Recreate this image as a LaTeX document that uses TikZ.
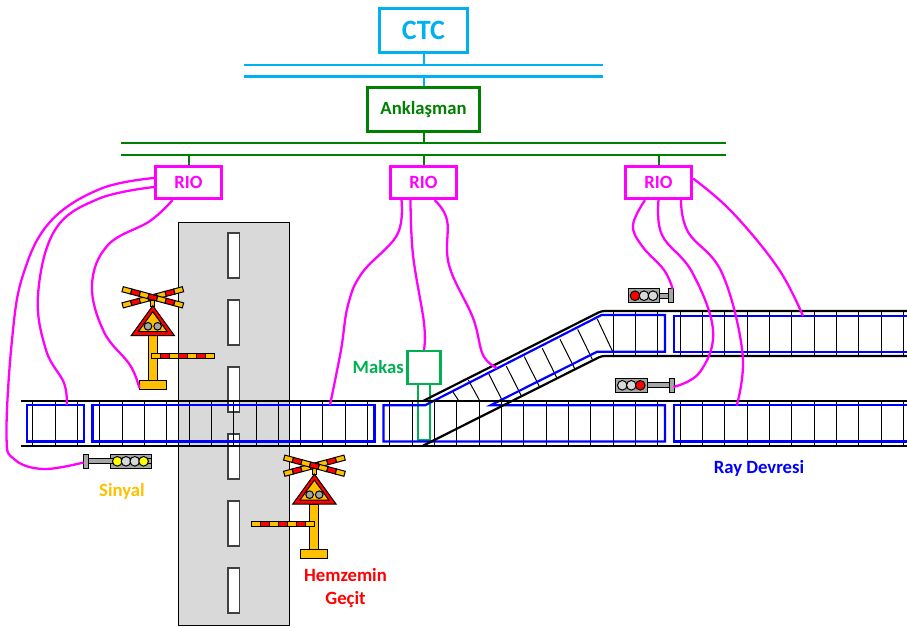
\documentclass[tikz,border=0pt]{standalone}
\usepackage{fontspec}
\setmainfont{Carlito}
\usepackage{xcolor}
\usetikzlibrary{positioning}
\definecolor{ctccolor}{HTML}{00B0F0}
\definecolor{lockcolor}{HTML}{008000}
\definecolor{pointcolor}{HTML}{00B050}
\definecolor{riocolor}{HTML}{FF00FF}
\definecolor{raycolor}{HTML}{0000FF}
\definecolor{gateyellow}{HTML}{FFC000}
\definecolor{gatered}{HTML}{FF0000}
\definecolor{lampyellow}{HTML}{FFFF00}
\definecolor{roadgray}{HTML}{D9D9D9}
\definecolor{headgray}{HTML}{A6A6A6}
\tikzset{
unitbox/.style={draw,fill=white,inner sep=0pt,font=\fontsize{18.7}{23}\selectfont\bfseries,align=center},
textlabel/.style={inner sep=0pt,font=\fontsize{18.7}{23}\selectfont\bfseries,align=center},
rail/.style={line width=2.2pt,black},
sleeper/.style={line width=1pt,black},
trackcircuit/.style={line width=2.2pt,raycolor},
cable/.style={line width=2.3pt,riocolor,line join=round},
part/.style={draw=black,line width=1pt,fill=#1},
gatebar/.pic={
\foreach \s/\barcolor in {0/gateyellow,1/gatered,2/gateyellow,3/gatered,4/gateyellow,5/gatered,6/gateyellow}
\path[part=\barcolor](-31.25+\s*8.93,-2.6) rectangle ++(8.93,5.2);
},
crossingsign/.pic={
\path[part=gateyellow](-2,3) rectangle (2,9);
\path[part=gateyellow](-4.5,38.4) rectangle (4.5,83.4);
\path[part=gateyellow](-13.5,83.4) rectangle (13.5,92.4);
\path[part=gatered](0,8.4)--(-21.7,38.4)--(21.7,38.4)--cycle;
\path[part=gateyellow](0,14.4)--(-14.5,34.4)--(14.5,34.4)--cycle;
\path[part=headgray](-4.8,29) circle[radius=3.8pt];
\path[part=headgray](4.8,29) circle[radius=3.8pt];
\pic[rotate=15]{gatebar};
\pic[rotate=-15]{gatebar};
}
}
% plate x, head left, head right, height, lamps
\newcommand{\signalunit}[5]{
\path[part=headgray](#2,#4-7) rectangle (#3,#4+7);
\path[part=headgray](#3,#4-2.5) rectangle (#1,#4+2.5);
\path[part=headgray](#1,#4-7) rectangle ++(4.7,14);
\foreach \lampx/\lampcolor in {#5}
\path[part=\lampcolor](\lampx,#4) circle[radius=4.8pt];
}
\begin{document}
\begin{tikzpicture}[x=1pt,y=-1pt]
\useasboundingbox (0,0) rectangle (907,627);
% road
\draw[fill=roadgray,line width=1pt](178,222) rectangle (289.5,625);
\foreach \k in {0,...,5}
\draw[fill=white,draw=black!75,line width=1.1pt](228,233+\k*67) rectangle ++(11.3,45);
% sleepers
\foreach \k in {0,...,39}
\draw[sleeper](32.7+\k*22.33,401)--++(0,44.7);
\foreach \k in {26,...,39}
\draw[sleeper](32.7+\k*22.33,311)--++(0,45);
\draw[sleeper](613.3,353)--(597.3,319)
(592.3,359.3)--(577.7,329.3)
(575,369.3)--(560,339.3)
(556.7,377.7)--(542.3,348.3)
(540,387.7)--(524.3,356.7)
(521.7,396.7)--(506.3,366)
(502,400)--(488.3,373)
(479.3,400)--(468.3,380)
(458.3,400)--(452.3,391);
% point machine
\node[unitbox,draw=pointcolor,line width=2.2pt,minimum size=33pt](makas) at (424,367.5){};
\node[textlabel,text=pointcolor,left=2.5pt of makas.west](makaslabel){Makas};
\coordinate (legleft) at (418,440);
\coordinate (legright) at (429.5,440);
\draw[pointcolor,line width=2pt](legleft|-makas.south)--(legleft)--(legright)--(legright|-makas.south);
% track circuits
\draw[trackcircuit](27,405.3) rectangle (83.7,441.5);
\draw[trackcircuit](92.5,405.3) rectangle (374.5,441.5);
\draw[trackcircuit](383.5,405.3)--(425,405.3)--(601.5,315)--(665,315)--(665,351.8)--(597,351.8)--(490.5,405.3)--(665,405.3)--(665,441.5)--(383.5,441.5)--cycle;
\draw[trackcircuit](907,405.3)--(674,405.3)--(674,441.5)--(907,441.5);
\draw[trackcircuit](907,316)--(674,316)--(674,351.8)--(907,351.8);
% rails
\draw[rail](21,401)--(907,401)
(21,445.7)--(907,445.7);
\draw[rail,rounded corners=3pt](423,401)--(601.5,311)--(907,311);
\draw[rail,rounded corners=3pt](423,445.7)--(601.5,356)--(907,356);
% buses and units
\node[unitbox,draw=ctccolor,text=ctccolor,line width=3.4pt,minimum width=88pt,minimum height=44pt,font=\fontsize{28}{32}\selectfont\bfseries](ctc) at (423.5,30.5){CTC};
\node[unitbox,draw=lockcolor,text=lockcolor,line width=2.2pt,minimum width=112pt,minimum height=44pt](lock) at (423.5,109.5){Anklaşman};
\node[unitbox,draw=riocolor,text=riocolor,line width=3.2pt,minimum width=66pt,minimum height=32pt](rioa) at (188.5,182.5){RIO};
\node[unitbox,draw=riocolor,text=riocolor,line width=3.2pt,minimum width=66pt,minimum height=32pt](riob) at (423.5,182.5){RIO};
\node[unitbox,draw=riocolor,text=riocolor,line width=3.2pt,minimum width=66pt,minimum height=32pt](rioc) at (658.5,182.5){RIO};
\coordinate (cyanup) at (423.5,65);
\coordinate (cyandown) at (423.5,76.5);
\coordinate (greenup) at (423.5,143);
\coordinate (greendown) at (423.5,155);
\draw[ctccolor,line width=2.2pt](244,65)--(603,65)
(244,76.5)--(603,76.5);
\draw[ctccolor,line width=2pt](ctc.south)--(cyanup)
(cyandown)--(lock.north);
\draw[lockcolor,line width=2.2pt](121,143)--(726,143)
(121,155)--(726,155);
\draw[lockcolor,line width=2pt](lock.south)--(greenup)
(greendown)--(riob.north)
(rioa.north|-greendown)--(rioa.north)
(rioc.north|-greendown)--(rioc.north);
% crossings
\pic at (152.8,297.3){crossingsign};
\pic at (183,356){gatebar};
\pic at (314.4,465.7){crossingsign};
\pic at (283,524.2){gatebar};
% signals
\signalunit{83.5}{110.7}{151}{461.3}{117.3/lampyellow,126/roadgray,134.8/roadgray,143.6/lampyellow}
\signalunit{668.3}{628.3}{659.3}{295.7}{635/gatered,644/roadgray,653/roadgray}
\signalunit{669.3}{615.7}{647.3}{385.3}{622.3/roadgray,631.3/roadgray,640.3/gatered}
% cables
\coordinate (sigend) at (83.5,462.5);
\coordinate (cirone) at (66.7,405);
\coordinate (gateend) at (139.3,388);
\coordinate (cirtwo) at (330,405);
\coordinate (divend) at (497,368);
\coordinate (sigup) at (672.7,289);
\coordinate (siglow) at (673.5,387);
\coordinate (cirthree) at (736.7,405.5);
\coordinate (cirfour) at (803,316);
\draw[cable] plot[smooth,tension=.65] coordinates {([yshift=4.5pt]rioa.west) (100,189) (50,222) (23,275) (12,340) (6.5,435) (14,459) (43,469) (sigend)};
\draw[cable] plot[smooth,tension=.65] coordinates {([yshift=-4.5pt]rioa.west) (98,199) (55,230) (38,295) (46,350) (64,383) (cirone)};
\draw[cable] plot[smooth,tension=.65] coordinates {([xshift=-16pt]rioa.south) (150,221) (108,245) (92,285) (104,332) (130,365) (gateend)};
\draw[cable] plot[smooth,tension=.65] coordinates {([xshift=-22pt]riob.south) (397,235) (362,273) (348,305) (341,350) (cirtwo)};
\draw[cable] plot[smooth,tension=.65] coordinates {([xshift=-13pt]riob.south) (413,255) (424,323) (makas.north)};
\draw[cable] plot[smooth,tension=.65] coordinates {([xshift=11pt]riob.south) (447,220) (449,265) (473,318) (483,355) (divend)};
\draw[cable] plot[smooth,tension=.65] coordinates {([xshift=-13.5pt]rioc.south) (633,225) (642,246) (664,270) (sigup)};
\draw[cable] plot[smooth,tension=.65] coordinates {(rioc.south) (662,235) (692,272) (713,330) (700,372) (siglow)};
\draw[cable] plot[smooth,tension=.65] coordinates {([xshift=22.5pt]rioc.south) (688,232) (722,273) (742.5,353) (cirthree)};
\draw[cable] plot[smooth,tension=.65] coordinates {([yshift=4pt]rioc.east) (732,212) (778,268) (cirfour)};
% labels
\node[textlabel,text=gateyellow](sinyal) at (122,491){Sinyal};
\node[textlabel,text=gatered](hemzemin) at (345.5,587.5){Hemzemin\\Geçit};
\node[textlabel,text=raycolor](raydevresi) at (759,468){Ray Devresi};
\end{tikzpicture}
\end{document}
